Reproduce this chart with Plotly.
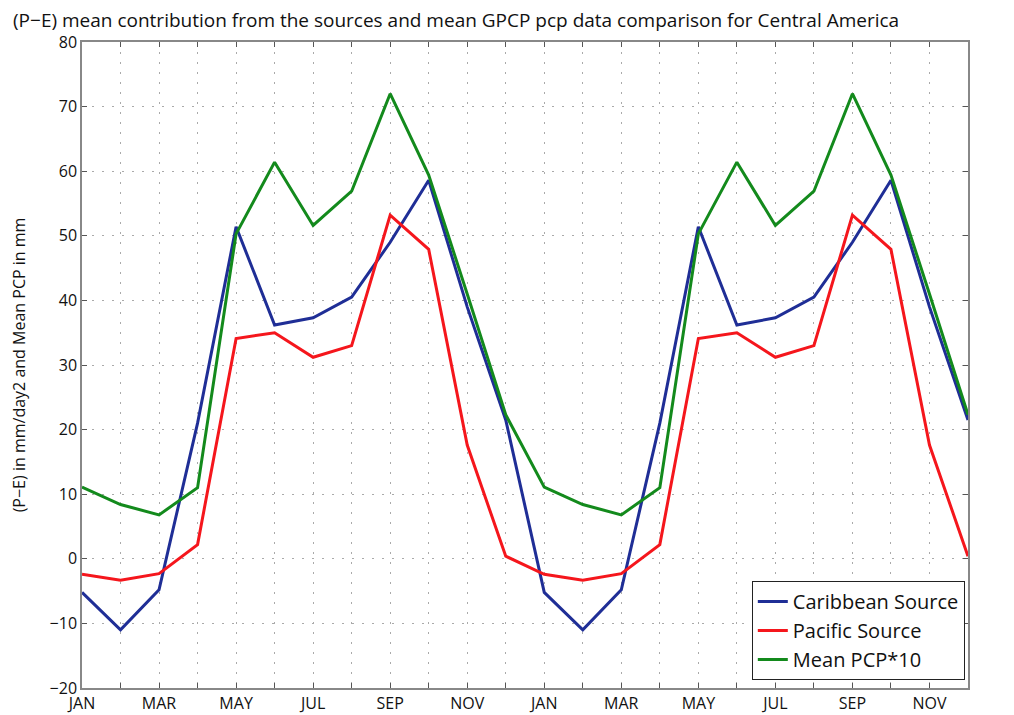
import plotly.graph_objects as go

months = ["JAN", "FEB", "MAR", "APR", "MAY", "JUN", "JUL", "AUG", "SEP", "OCT", "NOV", "DEC"]
month_idx = list(range(1, 25))
tick_labels = [m if i % 2 == 0 else "" for i, m in enumerate(months)] * 2

caribbean_year = [-5.2, -11.0, -4.8, 21.0, 51.4, 36.2, 37.3, 40.5, 49.0, 58.6, 39.0, 21.5]
pacific_year = [-2.4, -3.3, -2.3, 2.2, 34.1, 35.0, 31.2, 33.0, 53.2, 47.9, 17.6, 0.4]
mean_pcp_year = [11.1, 8.4, 6.8, 11.0, 50.3, 61.4, 51.6, 56.9, 72.0, 59.4, 41.0, 22.3]

caribbean = caribbean_year * 2
pacific = pacific_year * 2
mean_pcp = mean_pcp_year * 2

fig = go.Figure()
fig.add_trace(go.Scatter(x=month_idx, y=caribbean, mode="lines", name="Caribbean Source",
                         line=dict(color="#1f2e96", width=3)))
fig.add_trace(go.Scatter(x=month_idx, y=pacific, mode="lines", name="Pacific Source",
                         line=dict(color="#f5161c", width=3)))
fig.add_trace(go.Scatter(x=month_idx, y=mean_pcp, mode="lines", name="Mean PCP*10",
                         line=dict(color="#138a1c", width=3)))

font_family = "'Open Sans', Lato, sans-serif"
fig.update_layout(
    width=1006, height=707,
    margin=dict(l=74, r=46, t=34, b=27, autoexpand=False),
    paper_bgcolor="white", plot_bgcolor="white",
    title=dict(text="(P\u2212E) mean contribution from the sources and mean GPCP pcp data comparison for Central America",
               x=0.005, xanchor="left", y=0.983, yanchor="middle",
               font=dict(family=font_family, size=19, color="#111")),
    font=dict(family=font_family, size=15, color="#111"),
    showlegend=True,
    legend=dict(x=0.756, y=0.0124, xanchor="left", yanchor="bottom",
                bgcolor="white", bordercolor="#222", borderwidth=1,
                font=dict(size=20, color="#111"), tracegroupgap=0),
)
fig.update_xaxes(range=[1, 24], tickmode="array", tickvals=month_idx, ticktext=tick_labels,
                 showgrid=True, gridcolor="#aaaaaa", griddash="2px,8px", gridwidth=1,
                 ticks="inside", ticklen=5, tickcolor="#555", showline=True,
                 linecolor="#888", linewidth=1.5, mirror="ticks", zeroline=False,
                 automargin=False, tickfont=dict(size=16))
fig.update_yaxes(range=[-20, 80], dtick=10, showgrid=True, gridcolor="#aaaaaa", griddash="2px,8px",
                 ticks="inside", ticklen=5, tickcolor="#555", showline=True,
                 linecolor="#888", linewidth=1.5, mirror="ticks", zeroline=False,
                 automargin=False, tickfont=dict(size=16),
                 title=dict(text="(P\u2212E) in mm/day2 and Mean PCP in mm", font=dict(size=16), standoff=25))

fig.write_html("out.html")
